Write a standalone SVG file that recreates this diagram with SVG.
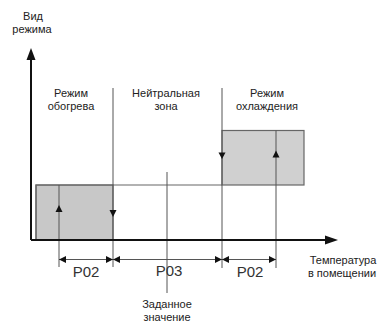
<svg xmlns="http://www.w3.org/2000/svg" width="380" height="326" viewBox="0 0 380 326">
<style>
.t{font-family:"Liberation Sans",Arial,sans-serif;font-size:11px;fill:#222;text-anchor:middle}
.p{font-family:"Liberation Sans",Arial,sans-serif;font-size:15px;fill:#333;text-anchor:middle}
.v{stroke:#555;stroke-width:1;fill:none}
.ax{stroke:#111;stroke-width:2;fill:none}
.box{stroke:#666;stroke-width:1.2}
.ah{fill:#111}
</style>
<rect width="380" height="326" fill="#fff"/>
<g id="heating-zone"><rect class="box" x="36" y="185" width="77" height="55" fill="#c8c8c8"/></g>
<g id="band"><polyline class="box" points="36,240 36,185 222,185" fill="none"/></g>
<g id="cooling-zone"><rect class="box" x="222" y="130.5" width="82" height="54.5" fill="#d0d0d0"/></g>
<g id="connectors">
  <line class="v" x1="59" y1="185" x2="59" y2="267"/>
  <line class="v" x1="113" y1="88" x2="113" y2="267"/>
  <line class="v" x1="167" y1="172" x2="167" y2="293" stroke="#888"/>
  <line class="v" x1="222" y1="88" x2="222" y2="268"/>
  <line class="v" x1="276" y1="130.5" x2="276" y2="268"/>
  <line class="v" x1="59" y1="259.5" x2="276" y2="259.5"/>
  <path class="ah" d="M59,205 L55.5,212 L62.5,212 Z"/>
  <path class="ah" d="M113,217 L109.5,210 L116.5,210 Z"/>
  <path class="ah" d="M222,159 L218.5,152.5 L225.5,152.5 Z"/>
  <path class="ah" d="M276,150.5 L272.5,157.5 L279.5,157.5 Z"/>
  <path class="ah" d="M59,259.5 L66,256 L66,263 Z"/>
  <path class="ah" d="M113,259.5 L106,256 L106,263 Z"/>
  <path class="ah" d="M113,259.5 L120,256 L120,263 Z"/>
  <path class="ah" d="M222,259.5 L215,256 L215,263 Z"/>
  <path class="ah" d="M222,259.5 L229,256 L229,263 Z"/>
  <path class="ah" d="M276,259.5 L269,256 L269,263 Z"/>
  <line class="ax" x1="31" y1="240" x2="31" y2="58"/>
  <path class="ah" d="M31,48 L26.5,60 L35.5,60 Z"/>
  <line class="ax" x1="31" y1="240" x2="326" y2="240"/>
  <path class="ah" d="M338,240 L325,235.5 L325,244.5 Z"/>
</g>
<g id="labels">
  <text class="t" x="33" y="20">Вид</text>
  <text class="t" x="32" y="33">режима</text>
  <text class="t" x="71" y="97">Режим</text>
  <text class="t" x="71" y="110">обогрева</text>
  <text class="t" x="166" y="97">Нейтральная</text>
  <text class="t" x="166" y="110">зона</text>
  <text class="t" x="267" y="97">Режим</text>
  <text class="t" x="267" y="110">охлаждения</text>
  <text class="t" x="343" y="264">Температура</text>
  <text class="t" x="342" y="277">в помещении</text>
  <text class="t" x="167" y="308">Заданное</text>
  <text class="t" x="167" y="321">значение</text>
  <text class="p" x="86" y="277">P02</text>
  <text class="p" x="169" y="276">P03</text>
  <text class="p" x="250" y="277">P02</text>
</g>
</svg>
